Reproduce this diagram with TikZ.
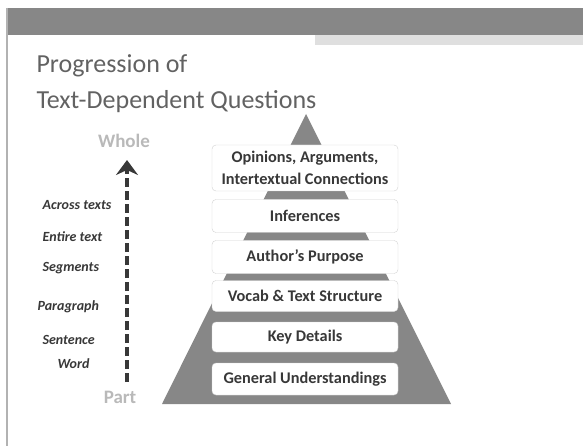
\documentclass[tikz,border=0pt]{standalone}
\usepackage{fontspec}
\setmainfont{Carlito}
\usetikzlibrary{arrows.meta}

\definecolor{slidegray}{HTML}{878787}
\definecolor{inkgray}{HTML}{383838}
\definecolor{titlegray}{HTML}{626262}

\tikzset{
    level/.style={draw=gray!35, fill=white, rounded corners=4pt,
        minimum width=186pt, inner sep=2pt, align=center,
        text=inkgray, font=\fontsize{16.3}{22}\selectfont\bfseries},
    grain/.style={anchor=west, text=inkgray,
        font=\fontsize{14}{16}\selectfont\bfseries\itshape},
    pole/.style={text=gray!55, font=\fontsize{19}{22}\selectfont\bfseries},
    heading/.style={anchor=base west, text=titlegray,
        font=\fontsize{26}{30}\selectfont},
}

\begin{document}
\begin{tikzpicture}[x=1pt,y=-1pt]
    \useasboundingbox (0,0) rectangle (583,446);
    % slide frame
    \fill [slidegray] (8,8) rectangle (583,35);
    \fill [gray!25] (315,35) rectangle (583,45);
    \draw [gray!60, line width=2.5pt] (7,8) -- (7,446);
    % title
    \node [heading] (title1) at (33,73) {Progression of};
    \node [heading] (title2) at (33,109) {Text-Dependent Questions};
    % pyramid behind the levels
    \fill [slidegray] (306,114) -- (451,404) -- (162,404) -- cycle;
    \foreach \name/\y/\h/\txt in {%
        opinions/168/46/{Opinions, Arguments,\\Intertextual Connections},
        inferences/216/33/{Inferences},
        purpose/257/33/{Author's Purpose},
        vocab/296/31/{Vocab \& Text Structure},
        details/337/30/{Key Details},
        general/379/32/{General Understandings}%
    } {%
        \node [level, minimum height=\h pt] (\name) at (305,\y) {\txt};
    }
    % part to whole scale
    \node [pole] (whole) at (124,141) {Whole};
    \node [pole] (part) at (120,397) {Part};
    \foreach \name/\x/\y/\txt in {%
        across/39/205/Across texts,
        entire/39/237/Entire text,
        segments/39/268/Segments,
        paragraph/34/307/Paragraph,
        sentence/39/340/Sentence,
        word/54/364/Word%
    } {%
        \node [grain] (lbl-\name) at (\x,\y) {\txt};
    }
    \coordinate (foot) at (127,382);
    \coordinate (tip) at (127,160);
    \draw [inkgray, line width=4pt, dash pattern=on 9pt off 4pt,
        -{Stealth[length=15pt, width=22pt, inset=5pt]}] (foot) -- (tip);
\end{tikzpicture}
\end{document}
